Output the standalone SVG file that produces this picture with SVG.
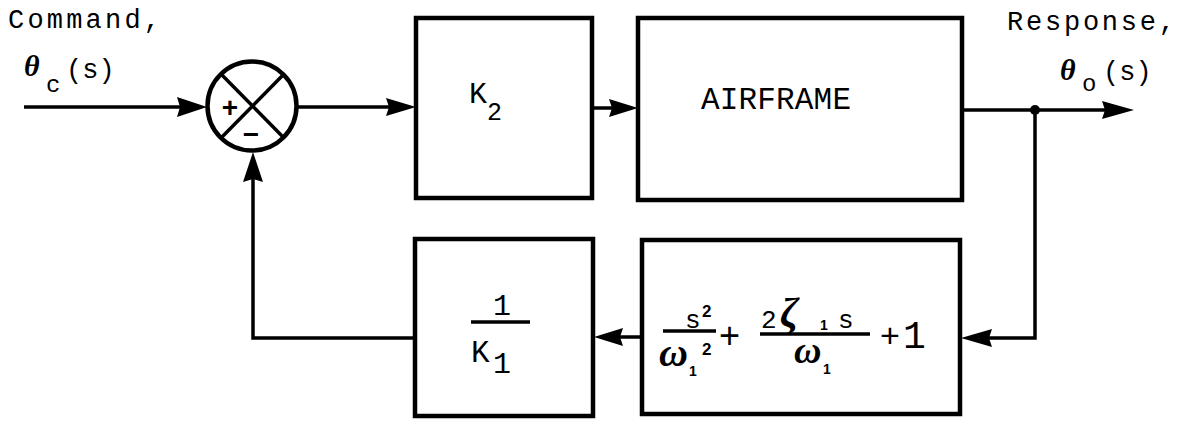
<svg xmlns="http://www.w3.org/2000/svg" width="1188" height="422" viewBox="0 0 1188 422">
<style>
.box{fill:none;stroke:#000;stroke-width:4.5}
.ln{fill:none;stroke:#000;stroke-width:3.5}
.ah{fill:#000;stroke:none}
.tw{font-family:"Liberation Mono","DejaVu Sans Mono",monospace;fill:#000}
.gk{font-family:"Liberation Serif","DejaVu Serif",serif;font-weight:bold;font-style:italic;fill:#000}
.sm{font-family:"Liberation Sans","DejaVu Sans",sans-serif;font-weight:bold;fill:#000}
.sg{font-family:"Liberation Sans","DejaVu Sans",sans-serif;fill:#000}
</style>
<rect width="1188" height="422" fill="#fff"/>

<g id="labels">
<text class="tw" x="8" y="28" font-size="27" textLength="152">Command,</text>
<text class="gk" x="24" y="76" font-size="30">θ</text>
<text class="tw" x="46" y="92" font-size="24">c</text>
<text class="tw" x="66" y="78" font-size="27">(s)</text>
<text class="tw" x="1007" y="30" font-size="27" textLength="168">Response,</text>
<text class="gk" x="1060" y="80" font-size="30">θ</text>
<text class="tw" x="1082" y="91" font-size="24">o</text>
<text class="tw" x="1103" y="80" font-size="27">(s)</text>
</g>

<g id="sum">
<circle cx="252" cy="106" r="44.5" fill="none" stroke="#000" stroke-width="4.5"/>
<line class="ln" x1="221" y1="74" x2="284" y2="138" stroke-width="4.5"/>
<line class="ln" x1="284" y1="74" x2="221" y2="138" stroke-width="4.5"/>
<text class="sm" x="230" y="117" font-size="28" text-anchor="middle">+</text>
<text class="sm" x="251" y="144" font-size="28" text-anchor="middle">−</text>
</g>

<g id="k2">
<rect class="box" x="416" y="18" width="176" height="180"/>
<text class="tw" x="469" y="103" font-size="30">K</text>
<text class="tw" x="487" y="120" font-size="25">2</text>
</g>

<g id="airframe">
<rect class="box" x="638" y="18" width="324" height="182"/>
<text class="tw" x="701" y="109" font-size="31" textLength="150">AIRFRAME</text>
</g>

<g id="filter">
<rect class="box" x="642" y="240" width="318" height="174"/>
<text class="tw" x="685" y="328" font-size="26">s</text>
<text class="sm" x="702" y="317" font-size="17">2</text>
<line class="ln" x1="663" y1="331" x2="716" y2="331" stroke-width="2.5"/>
<text class="gk" x="659" y="366" font-size="40">ω</text>
<text class="sm" x="689" y="376" font-size="14">1</text>
<text class="sm" x="702" y="355" font-size="17">2</text>
<text class="sg" x="719" y="348" font-size="36">+</text>
<text class="tw" x="761" y="328" font-size="26">2</text>
<text class="gk" x="780" y="327" font-size="42">ζ</text>
<text class="sm" x="820" y="330" font-size="14">1</text>
<text class="tw" x="838" y="328" font-size="26">s</text>
<line class="ln" x1="760" y1="334" x2="870" y2="334" stroke-width="2.5"/>
<text class="gk" x="794" y="363" font-size="38">ω</text>
<text class="sm" x="823" y="374" font-size="14">1</text>
<text class="sg" x="880" y="347" font-size="34">+</text>
<text class="tw" x="903" y="348" font-size="38">1</text>
</g>

<g id="k1">
<rect class="box" x="415" y="239" width="178" height="177"/>
<text class="tw" x="502" y="315" font-size="30" text-anchor="middle">1</text>
<line class="ln" x1="471" y1="322" x2="530" y2="322" stroke-width="3.5"/>
<text class="tw" x="471" y="362" font-size="31">K</text>
<text class="tw" x="493" y="373" font-size="30">1</text>
</g>

<g id="connectors">
<line class="ln" x1="24" y1="107" x2="190" y2="107"/>
<polygon class="ah" points="207,107 177,97 180,107 177,117"/>
<line class="ln" x1="297" y1="107" x2="400" y2="107"/>
<polygon class="ah" points="416,107 386,98 389,107 386,116"/>
<line class="ln" x1="592" y1="108" x2="620" y2="108"/>
<polygon class="ah" points="638,108 609,99 612,108 609,117"/>
<line class="ln" x1="962" y1="110" x2="1110" y2="110"/>
<polygon class="ah" points="1134,110 1102,101 1105,110 1102,119"/>
<circle cx="1035" cy="110" r="5" fill="#000"/>
<polyline class="ln" points="1035,110 1035,338 975,338"/>
<polygon class="ah" points="961,338 992,329 989,338 992,347"/>
<line class="ln" x1="642" y1="337" x2="610" y2="337"/>
<polygon class="ah" points="594,337 623,328 620,337 623,346"/>
<polyline class="ln" points="415,338 253,338 253,170"/>
<polygon class="ah" points="253,152 243,182 253,179 263,182"/>
</g>
</svg>
